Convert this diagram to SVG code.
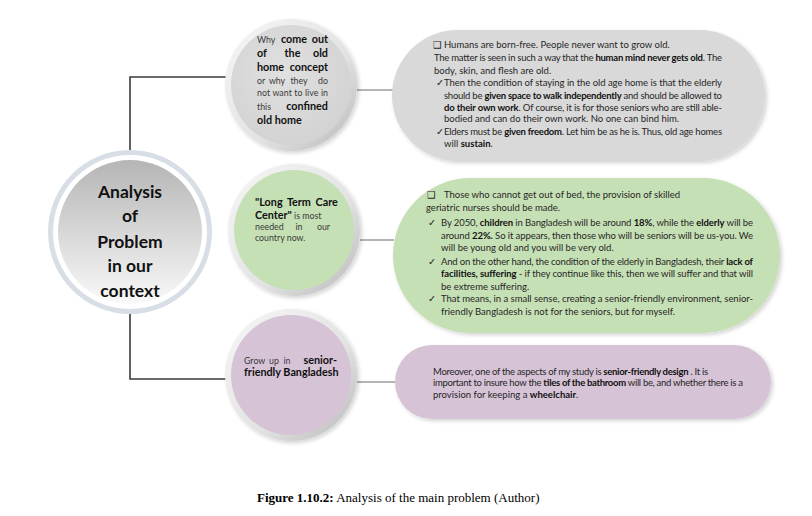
<svg xmlns="http://www.w3.org/2000/svg" width="812" height="516" viewBox="0 0 812 516">
<style>
text{font-family:Lato,"DejaVu Sans",sans-serif;fill:#262626}
.p{font-size:9.5px}
.b{font-weight:bold;fill:#111}
.cr{font-size:8.8px;fill:#3a3a3a}
.cb{font-size:10.8px;font-weight:bold;fill:#111}
.m{text-anchor:middle}
.e{text-anchor:end}
.main{font-size:17.5px;font-weight:bold;fill:#111;text-anchor:middle}
.cap{font-family:"Liberation Serif",serif;font-size:13px;fill:#000}
.conn{stroke:#3a3a3a;stroke-width:1.6;fill:none}
.thin{stroke:#6b6b6b;stroke-width:1;fill:none}
</style>
<defs>
<linearGradient id="rim" x1="0" y1="0" x2="1" y2="1">
<stop offset="0" stop-color="#f7f7f7"/><stop offset="0.6" stop-color="#e2e2e2"/><stop offset="1" stop-color="#b8b8b8"/>
</linearGradient>
<linearGradient id="mainGrad" x1="0" y1="0" x2="0" y2="1">
<stop offset="0" stop-color="#b5b5b5"/><stop offset="1" stop-color="#f9f9f9"/>
</linearGradient>
<radialGradient id="g1" cx="0.45" cy="0.4" r="0.6">
<stop offset="0" stop-color="#e0e0e0"/><stop offset="1" stop-color="#d3d3d3"/>
</radialGradient>
<filter id="sh" x="-10%" y="-10%" width="125%" height="125%">
<feGaussianBlur in="SourceAlpha" stdDeviation="2"/><feOffset dx="1.5" dy="2"/>
<feComponentTransfer><feFuncA type="linear" slope="0.18"/></feComponentTransfer>
<feMerge><feMergeNode/><feMergeNode in="SourceGraphic"/></feMerge>
</filter>
</defs>
<rect width="812" height="516" fill="#fff"/>

<g id="connectors">
<path class="conn" d="M130 150 V77 H227"/>
<path class="conn" d="M130 314 V379 H227"/>
<line class="thin" x1="357" y1="90" x2="393" y2="90"/>
<line class="thin" x1="360" y1="240" x2="394" y2="240"/>
<line class="thin" x1="357" y1="382" x2="396" y2="382"/>
</g>

<g id="main">
<circle cx="130" cy="232" r="82" fill="#d8dee6"/>
<circle cx="130" cy="232" r="77" fill="#fff"/>
<circle cx="130" cy="232" r="72" fill="url(#mainGrad)"/>
<text class="main" x="130" y="198">Analysis</text>
<text class="main" x="130" y="222">of</text>
<text class="main" x="130" y="248">Problem</text>
<text class="main" x="130" y="272">in our</text>
<text class="main" x="130" y="297">context</text>
</g>

<g id="circle1">
<circle cx="291" cy="85" r="66" fill="url(#rim)" filter="url(#sh)"/>
<circle cx="291" cy="85" r="60" fill="url(#g1)"/>
<text class="cr" x="257" y="43">Why</text>
<text class="cb m" x="294" y="43">come</text>
<text class="cb e" x="328" y="43">out</text>
<text class="cb" x="257" y="57">of</text>
<text class="cb m" x="292.5" y="57">the</text>
<text class="cb e" x="328" y="57">old</text>
<text class="cb" x="257" y="71">home</text>
<text class="cb e" x="328" y="71">concept</text>
<text class="cr" x="257" y="84">or</text>
<text class="cr m" x="277" y="84">why</text>
<text class="cr m" x="299" y="84">they</text>
<text class="cr e" x="328" y="84">do</text>
<text class="cr" x="257" y="96" textLength="71" lengthAdjust="spacing">not want to live in</text>
<text class="cr" x="257" y="110">this</text>
<text class="cb e" x="328" y="110">confined</text>
<text class="cb" x="257" y="124">old home</text>
</g>

<g id="circle2">
<circle cx="294" cy="230" r="66" fill="url(#rim)" filter="url(#sh)"/>
<circle cx="294" cy="230" r="60" fill="#c6e0b5"/>
<text class="cb" x="255" y="206" font-size="10.2" word-spacing="2">"Long Term Care</text>
<text x="255" y="219"><tspan class="cb" font-size="10.2">Center"</tspan><tspan class="cr"> is most</tspan></text>
<text class="cr" x="255" y="230">needed</text>
<text class="cr m" x="299" y="230">in</text>
<text class="cr e" x="330" y="230">our</text>
<text class="cr" x="255" y="241">country now.</text>
</g>

<g id="circle3">
<circle cx="291" cy="375" r="66" fill="url(#rim)" filter="url(#sh)"/>
<circle cx="291" cy="375" r="60" fill="#d6c3d6"/>
<text class="cr" x="244" y="364">Grow</text>
<text class="cr m" x="274" y="364">up</text>
<text class="cr m" x="287" y="364">in</text>
<text class="cb e" x="337" y="364">senior-</text>
<text class="cb" x="244" y="376">friendly Bangladesh</text>
</g>

<g id="pill1">
<rect x="392" y="30" width="373" height="131" rx="65.5" fill="#d9d9d9" filter="url(#sh)"/>
<text class="p" x="433" y="48">❑ Humans are born-free. People never want to grow old.</text>
<text class="p" x="434" y="61" textLength="288" lengthAdjust="spacing">The matter is seen in such a way that the <tspan class="b">human mind never gets old</tspan>. The</text>
<text class="p" x="434" y="74">body, skin, and flesh are old.</text>
<text class="p" x="436" y="86">✓</text>
<text class="p" x="444" y="86" textLength="278" lengthAdjust="spacing">Then the condition of staying in the old age home is that the elderly</text>
<text class="p" x="444" y="99" textLength="278" lengthAdjust="spacing">should be <tspan class="b">given space to walk independently</tspan>  and should be allowed to</text>
<text class="p" x="444" y="111" textLength="278" lengthAdjust="spacing"><tspan class="b">do their own work</tspan>. Of course, it is for those seniors who are still able-</text>
<text class="p" x="444" y="122">bodied and can do their own work. No one can bind him.</text>
<text class="p" x="436" y="135">✓</text>
<text class="p" x="444" y="135" textLength="278" lengthAdjust="spacing">Elders must be <tspan class="b">given freedom</tspan>. Let him be as he is. Thus, old age homes</text>
<text class="p" x="444" y="147">will <tspan class="b">sustain</tspan>.</text>
</g>

<g id="pill2">
<rect x="393" y="178" width="387" height="155" rx="77.5" fill="#c6e0b5" filter="url(#sh)"/>
<text class="p" x="427" y="198">❑</text>
<text class="p" x="444" y="198">Those who cannot get out of bed, the provision of skilled</text>
<text class="p" x="426" y="211">geriatric nurses should be made.</text>
<text class="p" x="428" y="226">✓</text>
<text class="p" x="441" y="226" textLength="312" lengthAdjust="spacing">By 2050, <tspan class="b">children</tspan> in Bangladesh will be around <tspan class="b">18%</tspan>, while the <tspan class="b">elderly</tspan> will be</text>
<text class="p" x="441" y="239" textLength="312" lengthAdjust="spacing">around <tspan class="b">22%.</tspan> So it appears, then those who will be seniors will be us-you. We</text>
<text class="p" x="441" y="251">will be young old and you will be very old.</text>
<text class="p" x="428" y="265">✓</text>
<text class="p" x="441" y="265" textLength="312" lengthAdjust="spacing">And on the other hand, the condition of the elderly in Bangladesh, their <tspan class="b">lack of</tspan></text>
<text class="p" x="441" y="277" textLength="312" lengthAdjust="spacing"><tspan class="b">facilities, suffering</tspan> - if they continue like this, then we will suffer and that will</text>
<text class="p" x="441" y="290">be extreme suffering.</text>
<text class="p" x="428" y="302">✓</text>
<text class="p" x="441" y="302" textLength="312" lengthAdjust="spacing">That means, in a small sense, creating a senior-friendly environment, senior-</text>
<text class="p" x="441" y="315">friendly Bangladesh is not for the seniors, but for myself.</text>
</g>

<g id="pill3">
<rect x="395" y="345" width="376" height="74" rx="37" fill="#d6c3d6" filter="url(#sh)"/>
<text class="p" x="433" y="375" textLength="275" lengthAdjust="spacing">Moreover, one of the aspects of my study is  <tspan class="b">senior-friendly design</tspan> . It is</text>
<text class="p" x="433" y="386" textLength="310" lengthAdjust="spacing">important to insure how the   <tspan class="b">tiles of the bathroom</tspan>   will be, and whether there is a</text>
<text class="p" x="433" y="398">provision for keeping a  <tspan class="b">wheelchair</tspan>.</text>
</g>

<text class="cap" x="257" y="502"><tspan font-weight="bold">Figure 1.10.2:</tspan> Analysis of the main problem (Author)</text>
</svg>
